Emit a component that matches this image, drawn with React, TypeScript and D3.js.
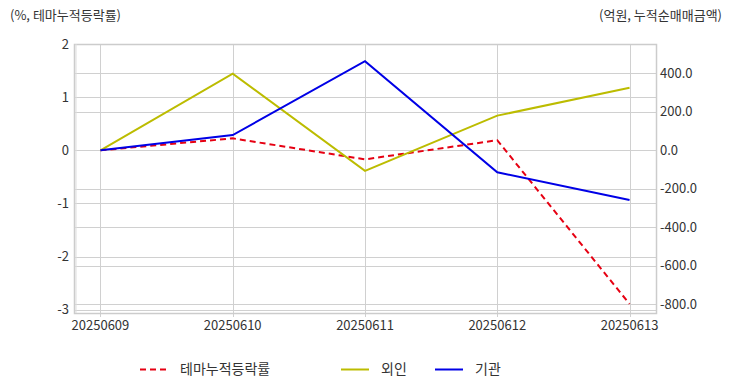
import React from "react";
import * as d3 from "d3";

const dates = ["20250609", "20250610", "20250611", "20250612", "20250613"];
const themeRate = [0, 0.225, -0.17, 0.19, -2.89];
const foreign = [0, 398, -107, 180, 325];
const institution = [0, 79, 463, -114, -258];
const leftTicks = [2, 1, 0, -1, -2, -3];
const rightTicks = [400, 200, 0, -200, -400, -600, -800];

const W = 732;
const H = 392;
const m = {left: 74, right: 656, top: 44, bottom: 313};
const font = "'Noto Sans CJK KR', 'Noto Sans', sans-serif";

export default function App() {
  const x = d3.scalePoint<string>().domain(dates).range([m.left, m.right]).padding(0.2);
  const yL = d3.scaleLinear().domain([-3.06, 2]).range([m.bottom, m.top]);
  const yR = d3.scaleLinear().domain([-845, 552]).range([m.bottom, m.top]);

  const lineL = d3.line<number>().x((d, i) => x(dates[i])!).y(d => yL(d));
  const lineR = d3.line<number>().x((d, i) => x(dates[i])!).y(d => yR(d));

  const series = [
    {name: "테마누적등락률", color: "#e60012", dash: "6,4", path: lineL(themeRate), lx: 140},
    {name: "외인", color: "#bcbc00", dash: "", path: lineR(foreign), lx: 341},
    {name: "기관", color: "#0000e6", dash: "", path: lineR(institution), lx: 435},
  ];

  return (
    <svg width={W} height={H} style={{position: "absolute", left: 0, top: 0}} fontFamily={font}>
      <rect width={W} height={H} fill="#fff" />
      <text x={10} y={20} fontSize={13} fill="#333">(%, 테마누적등락률)</text>
      <text x={722} y={20} fontSize={13} fill="#333" textAnchor="end">(억원, 누적순매매금액)</text>

      <g stroke="#d0d0d0" strokeWidth={1}>
        {leftTicks.map(t => (
          <line key={"l" + t} x1={m.left} x2={m.right} y1={Math.round(yL(t)) + 0.5} y2={Math.round(yL(t)) + 0.5} />
        ))}
        {rightTicks.map(t => (
          <line key={"r" + t} x1={m.left} x2={m.right} y1={Math.round(yR(t)) + 0.5} y2={Math.round(yR(t)) + 0.5} />
        ))}
        {dates.map(d => (
          <line key={d} x1={Math.round(x(d)!) + 0.5} x2={Math.round(x(d)!) + 0.5} y1={m.top} y2={m.bottom + 4} />
        ))}
      </g>
      <rect x={m.left + 0.5} y={m.top + 0.5} width={m.right - m.left} height={m.bottom - m.top}
        fill="none" stroke="#cccccc" strokeWidth={1.5} />
      <line x1={m.left + 2} x2={m.left + 2} y1={m.top} y2={m.bottom} stroke="#dddddd" />

      <g fontSize={13} fill="#333">
        {leftTicks.map(t => (
          <text key={t} x={69} y={yL(t)} dy="0.35em" textAnchor="end">{t}</text>
        ))}
        {rightTicks.map(t => (
          <text key={t} x={660} y={yR(t)} dy="0.35em">{t.toFixed(1)}</text>
        ))}
        {dates.map(d => (
          <text key={d} x={x(d)} y={330} textAnchor="middle">{d}</text>
        ))}
      </g>

      {series.map(s => (
        <path key={s.name} d={s.path!} fill="none" stroke={s.color} strokeWidth={2} strokeDasharray={s.dash} />
      ))}

      <g fontSize={14} fill="#333">
        {series.map(s => (
          <g key={s.name}>
            <line x1={s.lx} x2={s.lx + 28} y1={369.5} y2={369.5} stroke={s.color} strokeWidth={2} strokeDasharray={s.dash} />
            <text x={s.lx + 40} y={369} dy="0.35em">{s.name}</text>
          </g>
        ))}
      </g>
    </svg>
  );
}
